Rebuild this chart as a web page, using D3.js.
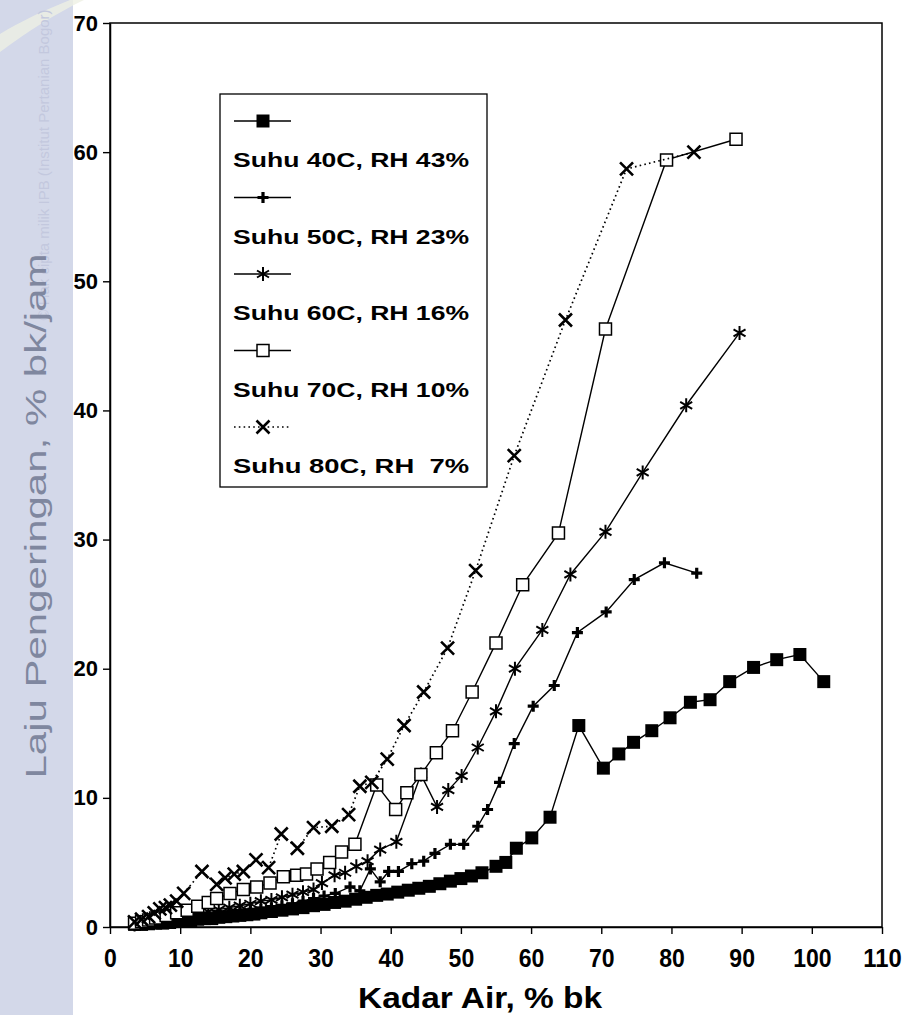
<!DOCTYPE html>
<html>
<head>
<meta charset="utf-8">
<script src="https://cdn.jsdelivr.net/npm/d3@7"></script>
<style>
  html, body { margin: 0; padding: 0; background: #ffffff; }
  svg { display: block; }
</style>
</head>
<body>
<svg id="chart" width="913" height="1015"></svg>
<script>
// Drying rate (% db per hour) against moisture content (% db) for five drying conditions.

const seriesNames = [
  "Suhu 40C, RH 43%",
  "Suhu 50C, RH 23%",
  "Suhu 60C, RH 16%",
  "Suhu 70C, RH 10%",
  "Suhu 80C, RH  7%"
];

const xTicks = [0, 10, 20, 30, 40, 50, 60, 70, 80, 90, 100, 110];
const yTicks = [0, 10, 20, 30, 40, 50, 60, 70];

// Suhu 40C, RH 43%
const x40 = [3.5, 4.5, 5.5, 6.5, 7.5, 8.5, 9.5, 10.5, 11.5, 12.5, 13.5, 14.5, 15.5, 16.5, 17.5, 18.5, 19.5, 20.5,
             21.5, 23, 24.5, 26, 27.5, 29, 30.5, 32, 33.5, 35, 36.5, 38, 39.5, 41, 42.5, 44, 45.5, 47, 48.5, 50,
             51.5, 53, 55, 56.4, 57.9, 60.1, 62.7, 66.8, 70.3, 72.5, 74.6, 77.2, 79.8, 82.7, 85.5, 88.3, 91.7,
             95.0, 98.3, 101.7];
const y40 = [0.2, 0.2, 0.25, 0.3, 0.3, 0.35, 0.45, 0.5, 0.5, 0.6, 0.65, 0.65, 0.75, 0.8, 0.85, 0.9, 0.95, 1.0,
             1.1, 1.2, 1.3, 1.4, 1.5, 1.65, 1.75, 1.9, 2.0, 2.15, 2.3, 2.45, 2.55, 2.7, 2.85, 3.0, 3.15, 3.35, 3.55, 3.75,
             3.95, 4.2, 4.7, 5.0, 6.1, 6.9, 8.5, 15.6, 12.3, 13.4, 14.3, 15.2, 16.2, 17.4, 17.6, 19.0, 20.1,
             20.7, 21.1, 19.0];

// Suhu 50C, RH 23%
const x50 = [3.5, 4.5, 5.5, 6.5, 7.5, 8.5, 9.5, 10.5, 11.5, 12.5, 14, 15.5, 17, 18.5, 20, 21.5, 23, 24.5, 26, 27.5,
             29, 30.5, 32.1, 34.2, 35.6, 37.1, 38.5, 39.7, 41.1, 43.0, 44.7, 46.3, 48.5, 50.4, 52.4, 53.8, 55.5,
             57.6, 60.3, 63.3, 66.6, 70.7, 74.7, 79.0, 83.6];
const y50 = [0.15, 0.2, 0.25, 0.3, 0.35, 0.4, 0.5, 0.55, 0.6, 0.7, 0.8, 0.95, 1.05, 1.15, 1.3, 1.4, 1.5, 1.65, 1.8, 2.0,
             2.2, 2.4, 2.6, 3.1, 2.8, 4.5, 3.5, 4.3, 4.3, 4.9, 5.1, 5.7, 6.4, 6.4, 7.8, 9.1, 11.2,
             14.2, 17.1, 18.7, 22.8, 24.4, 26.9, 28.2, 27.4];

// Suhu 60C, RH 16%
const x60 = [3.5, 4.5, 5.5, 6.5, 7.5, 8.5, 9.5, 10.5, 11.5, 12.5, 14, 15.5, 17, 18.5, 20, 21.5, 23, 24.5, 26, 27.5,
             29, 30.2, 32.0, 33.5, 35.1, 36.7, 38.5, 40.8, 44.3, 46.6, 48.2, 50.1, 52.4, 55.0, 57.7, 61.6, 65.6,
             70.6, 75.9, 82.1, 89.7];
const y60 = [0.2, 0.3, 0.4, 0.5, 0.55, 0.65, 0.75, 0.85, 0.95, 1.05, 1.2, 1.35, 1.5, 1.65, 1.8, 2.0, 2.1, 2.3, 2.5, 2.7,
             2.9, 3.4, 4.0, 4.2, 4.7, 5.1, 6.0, 6.6, 11.8, 9.3, 10.6, 11.7, 13.9, 16.7, 20.0, 23.0, 27.3,
             30.6, 35.2, 40.4, 46.0];

// Suhu 70C, RH 10%
const x70 = [3.5, 4.5, 5.5, 6.5, 8, 9.5, 11, 12.5, 14, 15.2, 17.1, 19.0, 20.9, 22.8, 24.7, 26.6, 28.0, 29.5, 31.3,
             33.0, 34.9, 38.0, 40.7, 42.3, 44.3, 46.5, 48.8, 51.6, 55.0, 58.8, 63.9, 70.6, 79.3, 89.2];
const y70 = [0.3, 0.4, 0.55, 0.7, 0.9, 1.1, 1.3, 1.6, 1.9, 2.2, 2.6, 2.9, 3.1, 3.4, 3.9, 4.0, 4.1, 4.5, 5.0,
             5.8, 6.4, 11.0, 9.1, 10.4, 11.8, 13.5, 15.2, 18.2, 22.0, 26.5, 30.5, 46.3, 59.4, 61.0];

// Suhu 80C, RH 7%
const x80 = [3.5, 4.5, 5.5, 6.3, 7.1, 7.9, 8.6, 9.5, 10.5, 13.1, 15.2, 16.4, 17.7, 19.0, 20.8, 22.6, 24.4, 26.7,
             29.0, 31.6, 34.0, 35.6, 37.3, 39.5, 41.9, 44.7, 48.1, 52.1, 57.6, 64.9, 73.6, 83.2];
const y80 = [0.4, 0.6, 0.8, 1.1, 1.4, 1.5, 1.7, 2.0, 2.6, 4.3, 3.3, 3.8, 4.1, 4.3, 5.2, 4.6, 7.2, 6.1,
             7.7, 7.8, 8.7, 10.9, 11.2, 13.0, 15.6, 18.2, 21.6, 27.6, 36.5, 47.0, 58.7, 60.0];

const markerTypes = ["filledSquare", "plus", "asterisk", "openSquare", "cross"];
const lineDash = [null, null, null, null, "1.6,3.2"];

const xs = [x40, x50, x60, x70, x80];
const ys = [y40, y50, y60, y70, y80];
const series = seriesNames.map((name, i) => ({
  name, marker: markerTypes[i], dash: lineDash[i],
  points: xs[i].map((v, j) => ({ x: v, y: ys[i][j] }))
}));

const svg = d3.select("#chart");
const W = 913, H = 1015;
const plot = { left: 110, right: 882, top: 23, bottom: 927 };

// left side band with the rotated axis title
svg.append("rect").attr("x", 0).attr("y", 0).attr("width", 73).attr("height", H)
  .attr("fill", "#d3d8e9");
svg.append("path")
  .attr("d", "M0,34 C20,22 40,12 70,0 L84,0 C55,14 30,30 0,52 Z")
  .attr("fill", "#eef0e4").attr("opacity", 0.8);
svg.append("text")
  .attr("transform", "translate(49,165) rotate(-90)")
  .attr("text-anchor", "middle")
  .attr("font-family", "Liberation Sans, Arial, sans-serif")
  .attr("font-size", 15)
  .attr("fill", "#c3c8de")
  .text("© Hak cipta milik IPB (Institut Pertanian Bogor)");

const x = d3.scaleLinear().domain([0, 110]).range([plot.left, plot.right]);
const y = d3.scaleLinear().domain([0, 70]).range([plot.bottom, plot.top]);

// frame
svg.append("rect")
  .attr("x", plot.left).attr("y", plot.top)
  .attr("width", plot.right - plot.left).attr("height", plot.bottom - plot.top)
  .attr("fill", "none").attr("stroke", "#000").attr("stroke-width", 1.5);

// axes
const gx = svg.append("g").attr("transform", `translate(0,${plot.bottom})`)
  .call(d3.axisBottom(x).tickValues(xTicks).tickSize(7).tickSizeOuter(0).tickPadding(15));
gx.select(".domain").attr("stroke-width", 1.5);
gx.selectAll(".tick line").attr("stroke-width", 1.4);
gx.selectAll(".tick text")
  .attr("font-family", "Liberation Sans, Arial, sans-serif")
  .attr("font-weight", "bold").attr("font-size", 25).attr("fill", "#000")
  .attr("textLength", d => String(d).length * 12.8)
  .attr("lengthAdjust", "spacingAndGlyphs");

const gy = svg.append("g").attr("transform", `translate(${plot.left},0)`)
  .call(d3.axisLeft(y).tickValues(yTicks).tickSize(7).tickSizeOuter(0).tickPadding(5));
gy.select(".domain").attr("stroke-width", 1.5);
gy.selectAll(".tick line").attr("stroke-width", 1.4);
gy.selectAll(".tick text")
  .attr("font-family", "Liberation Sans, Arial, sans-serif")
  .attr("font-weight", "bold").attr("font-size", 22).attr("fill", "#000");

// axis titles
svg.append("text")
  .attr("x", 480).attr("y", 1008)
  .attr("text-anchor", "middle")
  .attr("font-family", "Liberation Sans, Arial, sans-serif")
  .attr("font-weight", "bold").attr("font-size", 29)
  .attr("textLength", 244).attr("lengthAdjust", "spacingAndGlyphs")
  .text("Kadar Air, % bk");

svg.append("text")
  .attr("transform", "translate(46,516) rotate(-90)")
  .attr("text-anchor", "middle")
  .attr("font-family", "Liberation Sans, Arial, sans-serif")
  .attr("font-size", 29)
  .attr("fill", "#7f879f")
  .attr("textLength", 525).attr("lengthAdjust", "spacingAndGlyphs")
  .text("Laju Pengeringan, % bk/jam");

// marker shapes
function markerPath(type) {
  switch (type) {
    case "filledSquare": return "M-6.5,-6.5H6.5V6.5H-6.5Z";
    case "openSquare": return "M-6,-6H6V6H-6Z";
    case "plus": return "M-5.5,0H5.5M0,-5.5V5.5";
    case "asterisk": return "M0,-7V7M-6,-3.5L6,3.5M-6,3.5L6,-3.5";
    case "cross": return "M-6.5,-6.5L6.5,6.5M-6.5,6.5L6.5,-6.5";
  }
}
function styleMarker(sel, type) {
  if (type === "filledSquare") sel.attr("fill", "#000").attr("stroke", "none");
  else if (type === "openSquare") sel.attr("fill", "#fff").attr("stroke", "#000").attr("stroke-width", 1.5);
  else if (type === "plus") sel.attr("fill", "none").attr("stroke", "#000").attr("stroke-width", 3.2);
  else if (type === "asterisk") sel.attr("fill", "none").attr("stroke", "#000").attr("stroke-width", 2);
  else sel.attr("fill", "none").attr("stroke", "#000").attr("stroke-width", 2.6);
}

const line = d3.line().x(d => x(d.x)).y(d => y(d.y));

const gData = svg.append("g");
series.forEach(s => {
  const g = gData.append("g");
  g.append("path").datum(s.points)
    .attr("d", line)
    .attr("fill", "none").attr("stroke", "#000")
    .attr("stroke-width", s.dash ? 1.7 : 1.4)
    .attr("stroke-dasharray", s.dash);
  g.selectAll("path.mk").data(s.points).join("path")
    .attr("class", "mk")
    .attr("transform", d => `translate(${x(d.x)},${y(d.y)})`)
    .attr("d", markerPath(s.marker))
    .call(styleMarker, s.marker);
});

// legend
const legend = svg.append("g");
legend.append("rect")
  .attr("x", 220).attr("y", 94).attr("width", 267).attr("height", 393)
  .attr("fill", "#fff").attr("stroke", "#000").attr("stroke-width", 1.3);
series.forEach((s, i) => {
  const ly = 121 + i * 76.5;
  legend.append("line")
    .attr("x1", 234).attr("x2", 291).attr("y1", ly).attr("y2", ly)
    .attr("stroke", "#000").attr("stroke-width", s.dash ? 1.7 : 1.4)
    .attr("stroke-dasharray", s.dash);
  legend.append("path")
    .attr("transform", `translate(263,${ly})`)
    .attr("d", markerPath(s.marker))
    .call(styleMarker, s.marker);
  legend.append("text")
    .attr("x", 233).attr("y", ly + 46)
    .attr("font-family", "Liberation Sans, Arial, sans-serif")
    .attr("font-weight", "bold").attr("font-size", 21)
    .attr("textLength", 236).attr("lengthAdjust", "spacingAndGlyphs")
    .style("white-space", "pre")
    .text(s.name);
});
</script>
</body>
</html>
